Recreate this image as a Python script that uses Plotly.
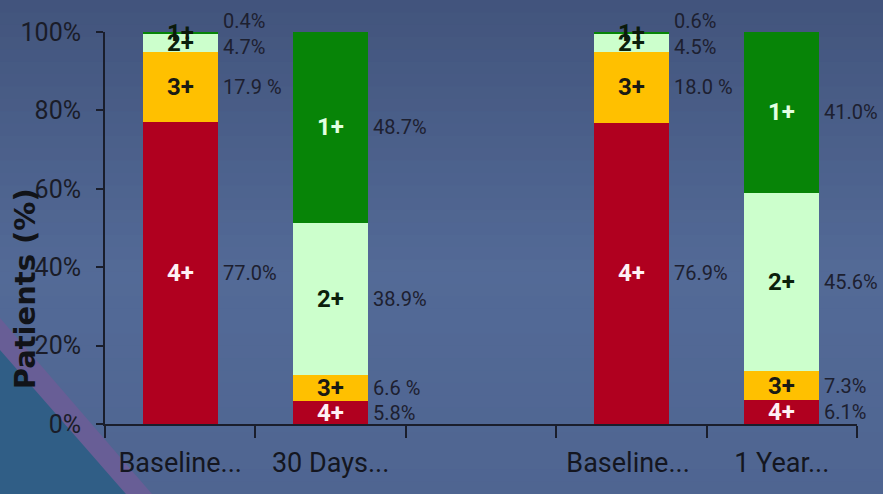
import plotly.graph_objects as go

# ---- data -------------------------------------------------------------
categories = ["Baseline...", "30 Days...", " ", "Baseline... ", "1 Year..."]
grades = ["4+", "3+", "2+", "1+"]

# share of patients (%) per regurgitation grade, one entry per column
grade_4 = [77.0, 5.8, None, 76.9, 6.1]
grade_3 = [17.9, 6.6, None, 18.0, 7.3]
grade_2 = [4.7, 38.9, None, 4.5, 45.6]
grade_1 = [0.4, 48.7, None, 0.6, 41.0]

label_4 = ["77.0%", "5.8%", "", "76.9%", "6.1%"]
label_3 = ["17.9 %", "6.6 %", "", "18.0 %", "7.3%"]
label_2 = ["4.7%", "38.9%", "", "4.5%", "45.6%"]
label_1 = ["0.4%", "48.7%", "", "0.6%", "41.0%"]

y_ticks = [0, 20, 40, 60, 80, 100]
y_tick_text = ["0%", "20%", "40%", "60%", "80%", "100%"]

# ---- styling ----------------------------------------------------------
W, H = 883, 494
M_L, M_R, M_T, M_B = 105, 26, 32, 70
FONT = "Roboto, Liberation Sans, sans-serif"
TEXT_DARK = "#1d2030"
AXIS = "#1a1e2c"

series = [
    (grades[0], grade_4, label_4, "#b0001f"),
    (grades[1], grade_3, label_3, "#ffc000"),
    (grades[2], grade_2, label_2, "#ccffcc"),
    (grades[3], grade_1, label_1, "#078407"),
]
inner_color = {"4+": "#fff0f4", "3+": "#1a1a14", "2+": "#0b200b", "1+": "#e2ffe2"}

fig = go.Figure()
for name, vals, _, col in series:
    fig.add_trace(go.Bar(
        x=categories, y=vals, name=name, width=0.5,
        marker=dict(color=col, line=dict(width=0)),
        hoverinfo="skip",
    ))

# ---- labels: grade inside each segment, value to the right ------------
annotations = []
bar_half_px = 0.25 * (W - M_L - M_R) / len(categories)
for i, cat in enumerate(categories):
    base = 0.0
    for name, vals, labels, _ in series:
        v = vals[i]
        if v is None:
            continue
        mid = base + v / 2.0
        top = base + v
        base = top
        col = inner_color[name]
        if name == "1+" and v < 5:
            col = "#0b1a0b"
        annotations.append(dict(
            x=cat, y=mid, xref="x", yref="y", text=f"<b>{name}</b>",
            showarrow=False, xanchor="center", yanchor="middle",
            font=dict(family=FONT, size=24, color=col),
        ))
        shift = 0
        if v < 2:
            shift = 12
        elif v < 6 and top > 90:
            shift = -4
        annotations.append(dict(
            x=cat, y=mid, xref="x", yref="y", text=labels[i],
            showarrow=False, xanchor="left", yanchor="middle",
            xshift=bar_half_px + 3, yshift=shift,
            font=dict(family=FONT, size=20, color=TEXT_DARK),
        ))

# axis title
annotations.append(dict(
    x=-0.107, y=0.345, xref="paper", yref="paper", text="<b>Patients (%)</b>",
    textangle=-90, showarrow=False, xanchor="center", yanchor="middle",
    font=dict(family="DejaVu Sans, sans-serif", size=29, color="#111318"),
))

# ---- background: vertical slate gradient plus a corner swoosh --------
PW, PH = W - M_L - M_R, H - M_T - M_B


def px(x, y):
    return (x - M_L) / PW, (H - M_B - y) / PH


shapes = []
stops = [(0, (66, 84, 124)), (0.55, (83, 106, 151)), (1.0, (79, 101, 145))]
n_band = 40
for k in range(n_band):
    t = (k + 0.5) / n_band
    for (t0, c0), (t1, c1) in zip(stops[:-1], stops[1:]):
        if t0 <= t <= t1:
            f = (t - t0) / (t1 - t0)
            c = tuple(int(round(a + (b - a) * f)) for a, b in zip(c0, c1))
            break
    x0, y0 = px(0, H * k / n_band)
    x1, y1 = px(W, H * (k + 1) / n_band + 1)
    shapes.append(dict(type="rect", xref="paper", yref="paper", x0=x0, x1=x1,
                       y0=y1, y1=y0, line=dict(width=0),
                       fillcolor=f"rgb{c}", layer="below"))


def poly(points, color):
    pts = [px(x, y) for x, y in points]
    path = "M " + " L ".join(f"{a:.4f},{b:.4f}" for a, b in pts) + " Z"
    return dict(type="path", xref="paper", yref="paper", path=path,
                fillcolor=color, line=dict(width=0), layer="below")


shapes.append(poly([(0, 318), (152, 494), (0, 494)], "rgb(104,94,150)"))
shapes.append(poly([(0, 350), (126, 494), (0, 494)], "rgb(48,94,134)"))

fig.update_layout(
    width=W, height=H,
    margin=dict(l=M_L, r=M_R, t=M_T, b=M_B, pad=0, autoexpand=False),
    barmode="stack",
    bargap=0.5,
    showlegend=False,
    paper_bgcolor="#4c6290",
    plot_bgcolor="rgba(0,0,0,0)",
    annotations=annotations,
    shapes=shapes,
    xaxis=dict(
        type="category", categoryorder="array", categoryarray=categories,
        tickson="boundaries", ticks="outside", ticklen=12, tickwidth=2,
        tickcolor=AXIS, showline=True, linecolor=AXIS, linewidth=2,
        showgrid=False, zeroline=False, tickangle=0, automargin=False,
        ticklabelstandoff=14,
        tickfont=dict(family=FONT, size=27, color="#141620"),
        range=[-0.5, 4.5],
    ),
    yaxis=dict(
        range=[0, 100], tickvals=y_ticks, ticktext=y_tick_text,
        ticks="outside", ticklen=7, tickwidth=2, tickcolor=AXIS,
        showline=True, linecolor=AXIS, linewidth=2, automargin=False,
        showgrid=False, zeroline=False, ticklabelstandoff=10,
        tickfont=dict(family=FONT, size=25, color="#1a1c28"),
    ),
)

fig.write_html("out.html")
